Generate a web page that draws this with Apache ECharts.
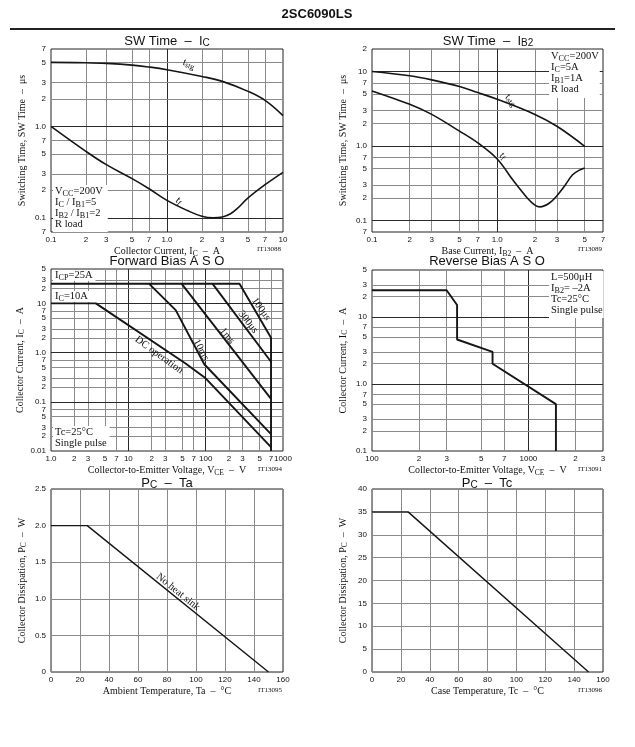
<!DOCTYPE html>
<html><head><meta charset="utf-8">
<script src="https://cdn.jsdelivr.net/npm/echarts@6/dist/echarts.min.js"></script>
<style>html,body{margin:0;padding:0;background:#fff}#c{width:635px;height:747px}</style>
</head><body><div id="c"></div>
<script>
// ---------- data ----------
const swIcX = [0.1,0.2,0.3,0.5,0.7,1,2,3,5,7,10];
const swIcTstg = [5.0,4.95,4.87,4.67,4.45,4.16,3.51,3.1,2.41,1.92,1.31];
const swIcTfX = [0.1,0.2,0.3,0.5,0.7,1,1.5,2,2.5,3,3.5,4,5,7,10];
const swIcTf = [1.0,0.533,0.381,0.268,0.208,0.155,0.12,0.104,0.1,0.102,0.11,0.125,0.165,0.23,0.314];

const swIbX = [0.1,0.2,0.3,0.5,0.7,1,2,3,5];
const swIbTstg = [10,8.74,7.71,6.27,5.2,4.23,2.65,1.84,0.99];
const swIbTfX = [0.1,0.2,0.3,0.5,0.7,1,1.35,1.73,2,2.2,2.6,3,3.5,4,4.5,5];
const swIbTf = [5.48,3.62,2.65,1.58,1.1,0.667,0.34,0.202,0.161,0.152,0.17,0.215,0.3,0.41,0.47,0.505];

const fw100us = [[1,25],[274,25],[700,2],[700,0.01]];
const fw300us = [[123,25],[700,0.65]];
const fw1ms = [[49,25],[700,0.115]];
const fw10ms = [[18.6,25],[41,7.3],[96,0.58],[700,0.022]];
const fwDC = [[1,10],[3.8,10],[55,0.6],[100,0.3],[700,0.012]];

const rbSoa = [[100,25],[300,25],[350,15],[350,4.6],[590,3],[590,2],[1500,0.5],[1500,0.1]];

const pcTa = [[0,2],[25,2],[150,0]];
const pcTc = [[0,35],[25,35],[150,0]];

// tick values
const t1x = [0.1,0.2,0.3,0.5,0.7,1,2,3,5,7,10];
const t1y = [0.07,0.1,0.2,0.3,0.5,0.7,1,2,3,5,7];
const t2x = [0.1,0.2,0.3,0.5,0.7,1,2,3,5,7];
const t2y = [0.07,0.1,0.2,0.3,0.5,0.7,1,2,3,5,7,10,20];
const t3x = [1,2,3,5,7,10,20,30,50,70,100,200,300,500,700,1000];
const t3y = [0.01,0.02,0.03,0.05,0.07,0.1,0.2,0.3,0.5,0.7,1,2,3,5,7,10,20,30,50];
const t4x = [100,200,300,500,700,1000,2000,3000];
const t4y = [0.1,0.2,0.3,0.5,0.7,1,2,3,5,7,10,20,30,50];

// ---------- helpers ----------
const SERIF = '"Liberation Serif", "DejaVu Serif", serif';
const SANS = '"Liberation Sans", Arial, sans-serif';
function isDecade(v){ const l = Math.log10(v); return Math.abs(l - Math.round(l)) < 1e-6; }
function logLbl(v){
  const e = Math.floor(Math.log10(v) + 1e-9);
  const m = Math.round(v / Math.pow(10, e));
  if (m === 1) {
    if (e === -2) return '0.01';
    if (e === -1) return '0.1';
    if (e === 0) return '1.0';
    return String(Math.round(Math.pow(10, e)));
  }
  return String(m);
}
const subRich = (fs, base) => ({
  s: {fontSize: fs, fontFamily: base.fontFamily, lineHeight: base.lineHeight, padding: [base.sub || 4, 0, 0, 0], color: '#111'},
  n: {fontSize: base.fontSize, fontFamily: base.fontFamily, lineHeight: base.lineHeight, color: '#111'}
});
const nameRich = subRich(7.5, {fontFamily: SERIF, fontSize: 10, lineHeight: 12, sub: 5});

function logAxis(gi, min, max, ticks, isY, name, gap){
  return {
    type: 'log', logBase: 10, gridIndex: gi, min: min, max: max,
    name: name, nameLocation: 'middle', nameGap: gap,
    nameTextStyle: {fontFamily: SERIF, fontSize: 10, color: '#111', lineHeight: 12, rich: nameRich},
    axisLine: {show: false}, axisTick: {show: false}, splitLine: {show: false},
    axisLabel: {customValues: ticks, formatter: logLbl, fontFamily: SANS, fontSize: 8, color: '#111',
      margin: isY ? 5 : 4, showMinLabel: true, showMaxLabel: true, hideOverlap: false}
  };
}
function valAxis(gi, min, max, iv, isY, name, gap, fmt){
  return {
    type: 'value', gridIndex: gi, min: min, max: max, interval: iv,
    name: name, nameLocation: 'middle', nameGap: gap,
    nameTextStyle: {fontFamily: SERIF, fontSize: 10, color: '#111', lineHeight: 12, rich: nameRich},
    axisLine: {show: false}, axisTick: {show: false},
    splitLine: {show: true, lineStyle: {color: '#8a8a8a', width: 1}},
    axisLabel: {formatter: fmt, fontFamily: SANS, fontSize: 8, color: '#111', margin: isY ? 5 : 4,
      showMinLabel: true, showMaxLabel: true}
  };
}
function gridSeries(gi, xs, ys){
  const d = [];
  xs.forEach(v => d.push({xAxis: v, lineStyle: {color: isDecade(v) ? '#2a2a2a' : '#8a8a8a', width: 1, type: 'solid'}}));
  ys.forEach(v => d.push({yAxis: v, lineStyle: {color: isDecade(v) ? '#2a2a2a' : '#8a8a8a', width: 1, type: 'solid'}}));
  return {type: 'line', xAxisIndex: gi, yAxisIndex: gi, data: [], silent: true, z: 1,
    markLine: {silent: true, symbol: ['none','none'], label: {show: false}, animation: false, z: 1, data: d}};
}
function curve(gi, data, w, smooth){
  return {type: 'line', xAxisIndex: gi, yAxisIndex: gi, data: data, showSymbol: false, symbol: 'none',
    smooth: smooth || false, lineStyle: {color: '#151515', width: w}, z: 5, animation: false, silent: true};
}
const zip = (xs, ys) => xs.map((x, i) => [x, ys[i]]);
const inner = (a, lo, hi) => a.filter(v => v > lo * 1.0001 && v < hi * 0.9999);

const grids = [
  {left: 51, top: 49, width: 232, height: 183},
  {left: 372, top: 49, width: 231, height: 183},
  {left: 51, top: 269, width: 232, height: 182},
  {left: 372, top: 270, width: 231, height: 181},
  {left: 51, top: 489, width: 232, height: 183},
  {left: 372, top: 489, width: 231, height: 183}
].map(g => Object.assign({show: true, borderColor: '#222', borderWidth: 1, containLabel: false, outerBoundsMode: 'none'}, g));

const xAxes = [
  logAxis(0, 0.1, 10, t1x, false, 'Collector Current, I{s|C}  –  A', 10),
  logAxis(1, 0.1, 7, t2x, false, 'Base Current, I{s|B2}  –  A', 10),
  logAxis(2, 1, 1000, t3x, false, 'Collector-to-Emitter Voltage, V{s|CE}  –  V', 10),
  logAxis(3, 100, 3000, t4x, false, 'Collector-to-Emitter Voltage, V{s|CE}  –  V', 10),
  valAxis(4, 0, 160, 20, false, 'Ambient Temperature, Ta  –  °C', 10, v => String(v)),
  valAxis(5, 0, 160, 20, false, 'Case Temperature, Tc  –  °C', 10, v => String(v))
];
const yAxes = [
  logAxis(0, 0.07, 7, t1y, true, 'Switching Time, SW Time  –  μs', 23),
  logAxis(1, 0.07, 20, t2y, true, 'Switching Time, SW Time  –  μs', 23),
  logAxis(2, 0.01, 50, t3y, true, 'Collector Current, I{s|C}  –  A', 23),
  logAxis(3, 0.1, 50, t4y, true, 'Collector Current, I{s|C}  –  A', 23),
  valAxis(4, 0, 2.5, 0.5, true, 'Collector Dissipation, P{s|C}  –  W', 23, v => v === 0 ? '0' : v.toFixed(1)),
  valAxis(5, 0, 40, 5, true, 'Collector Dissipation, P{s|C}  –  W', 23, v => String(v))
];

const series = [
  gridSeries(0, inner(t1x, 0.1, 10), inner(t1y, 0.07, 7)),
  gridSeries(1, inner(t2x, 0.1, 7), inner(t2y, 0.07, 20)),
  gridSeries(2, inner(t3x, 1, 1000), inner(t3y, 0.01, 50)),
  gridSeries(3, inner(t4x, 100, 3000), inner(t4y, 0.1, 50)),
  curve(0, zip(swIcX, swIcTstg), 1.6, 0.4),
  curve(0, zip(swIcTfX, swIcTf), 1.6, 0.4),
  curve(1, zip(swIbX, swIbTstg), 1.6, 0.4),
  curve(1, zip(swIbTfX, swIbTf), 1.6, 0.35),
  curve(2, fw100us, 1.9),
  curve(2, fw300us, 1.9),
  curve(2, fw1ms, 1.9),
  curve(2, fw10ms, 1.9),
  curve(2, fwDC, 1.9),
  curve(3, rbSoa, 1.9),
  curve(4, pcTa, 1.4),
  curve(5, pcTc, 1.4)
];

// ---------- text ----------
const deg = d => -d * Math.PI / 180;
function txt(x, y, text, o){
  o = o || {};
  const fs = o.fs || 10.5, fam = o.fam || SERIF, lh = o.lh || 11;
  return {type: 'text', x: x, y: y, z: o.z || 20, rotation: o.rot ? deg(o.rot) : 0,
    style: {text: text, fontSize: fs, fontFamily: fam, fontWeight: o.bold ? 'bold' : 'normal', fill: '#111',
      lineHeight: lh, align: o.align || 'left', verticalAlign: o.va || 'top',
      backgroundColor: o.bg || null, padding: o.pad || 0,
      rich: {s: {fontSize: o.sfs || fs * 0.78, fontFamily: fam, lineHeight: lh, padding: [o.sub || 4, 0, 0, 0], fill: '#111'}}}};
}
const titleOpt = {fs: 13, fam: SANS, align: 'center', va: 'middle', lh: 16, sfs: 10, sub: 5};
const graphic = [
  txt(317, 14, '2SC6090LS', {fs: 13, fam: SANS, bold: true, align: 'center', va: 'middle'}),
  {type: 'line', shape: {x1: 10, y1: 29, x2: 615, y2: 29}, style: {stroke: '#222', lineWidth: 2}},
  txt(167, 41, 'SW Time  –  I{s|C}', titleOpt),
  txt(488, 41, 'SW Time  –  I{s|B2}', titleOpt),
  txt(167, 261, 'Forward Bias A S O', titleOpt),
  txt(487, 261, 'Reverse Bias A S O', titleOpt),
  txt(167, 483, 'P{s|C}  –  Ta', titleOpt),
  txt(487, 483, 'P{s|C}  –  Tc', titleOpt),
  // IT codes
  txt(269, 249, 'IT13088', {fs: 7, align: 'center', va: 'middle'}),
  txt(590, 249, 'IT13089', {fs: 7, align: 'center', va: 'middle'}),
  txt(270, 469, 'IT13094', {fs: 7, align: 'center', va: 'middle'}),
  txt(590, 469, 'IT13091', {fs: 7, align: 'center', va: 'middle'}),
  txt(270, 690, 'IT13095', {fs: 7, align: 'center', va: 'middle'}),
  txt(590, 690, 'IT13096', {fs: 7, align: 'center', va: 'middle'}),
  // annotation boxes
  txt(53, 185, 'V{s|CC}=200V\nI{s|C} / I{s|B1}=5\nI{s|B2} / I{s|B1}=2\nR load', {bg: '#fff', pad: [1, 5, 2, 2]}),
  txt(549, 50, 'V{s|CC}=200V\nI{s|C}=5A\nI{s|B1}=1A\nR load', {bg: '#fff', pad: [1, 1, 3, 2]}),
  txt(53, 270, 'I{s|CP}=25A', {bg: '#fff', pad: [0, 3, 0, 2]}),
  txt(53, 291, 'I{s|C}=10A', {bg: '#fff', pad: [0, 3, 0, 2]}),
  txt(53, 426, 'Tc=25°C\nSingle pulse', {bg: '#fff', pad: [1, 3, 1, 2]}),
  txt(549, 271, 'L=500μH\nI{s|B2}= –2A\nTc=25°C\nSingle pulse', {bg: '#fff', pad: [1, 1, 2, 2]}),
  // curve labels
  txt(189, 64, 't{s|stg}', {align: 'center', va: 'middle', rot: 20, sfs: 8}),
  txt(179, 201, 't{s|f}', {align: 'center', va: 'middle', rot: 40, sfs: 8}),
  txt(511, 100, 't{s|stg}', {align: 'center', va: 'middle', rot: 45, sfs: 8}),
  txt(503, 156, 't{s|f}', {align: 'center', va: 'middle', rot: 45, sfs: 8}),
  txt(159, 355, 'DC operation', {align: 'center', va: 'middle', rot: 36}),
  txt(201, 350, '10ms', {align: 'center', va: 'middle', rot: 62}),
  txt(227, 336, '1ms', {align: 'center', va: 'middle', rot: 52}),
  txt(248, 322, '300μs', {align: 'center', va: 'middle', rot: 52}),
  txt(261, 309, '100μs', {align: 'center', va: 'middle', rot: 55}),
  txt(178, 592, 'No heat sink', {align: 'center', va: 'middle', rot: 39})
];

const chart = echarts.init(document.getElementById('c'), null, {renderer: 'canvas'});
chart.setOption({
  animation: false,
  backgroundColor: '#fff',
  grid: grids, xAxis: xAxes, yAxis: yAxes, series: series, graphic: graphic
});
</script></body></html>
